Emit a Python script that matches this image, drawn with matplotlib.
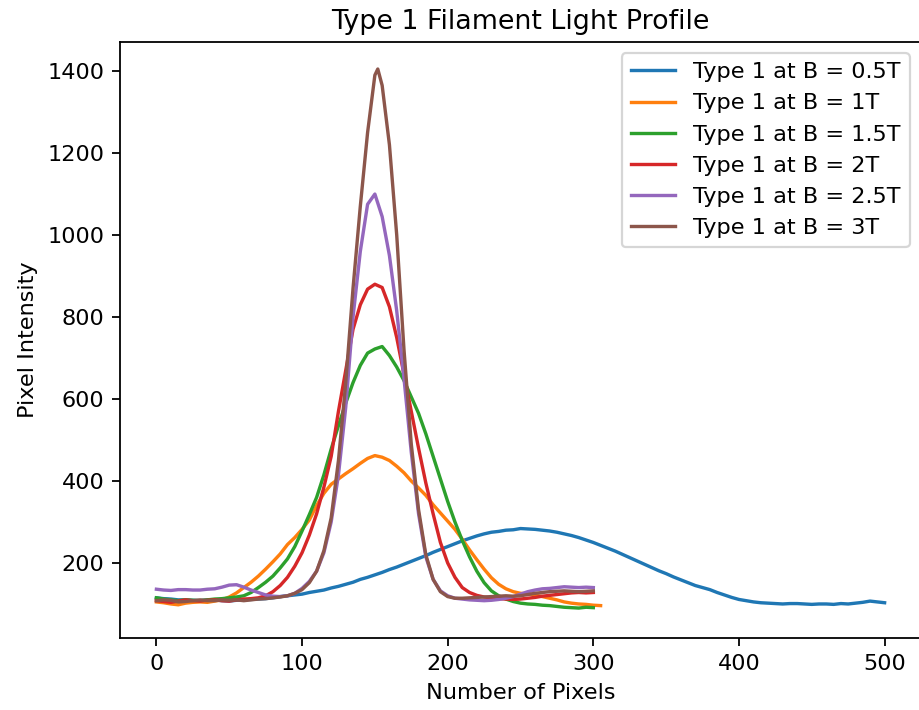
import matplotlib
matplotlib.use("Agg")
import matplotlib.pyplot as plt

# ---- data ----
x_b05 = list(range(0, 501, 5))
y_b05 = [115, 113, 112, 110, 110, 109, 108, 110, 110, 108, 107, 109, 110, 111, 112, 113, 115, 118, 120, 122,
         124, 128, 131, 134, 139, 143, 148, 153, 160, 165, 171, 177, 184, 190, 197, 204, 211, 218, 226, 233,
         240, 247, 254, 260, 266, 271, 275, 277, 280, 281, 284, 283, 282, 280, 278, 275, 271, 267, 262, 256,
         250, 243, 236, 229, 221, 213, 205, 197, 189, 181, 174, 166, 159, 152, 145, 140, 135, 128, 122, 116,
         111, 108, 105, 103, 102, 101, 100, 101, 101, 100, 99, 100, 100, 99, 101, 100, 102, 104, 107, 105, 103]

x_b1 = list(range(0, 306, 5))
y_b1 = [105, 103, 100, 98, 102, 104, 105, 104, 107, 110, 117, 127, 140, 153, 168, 185, 203, 222, 245, 262,
        282, 305, 340, 370, 392, 405, 418, 430, 443, 455, 462, 458, 450, 436, 420, 400, 383, 365, 342, 322,
        302, 282, 258, 232, 208, 185, 164, 148, 137, 130, 126, 125, 122, 118, 114, 110, 105, 102, 100, 99,
        97, 96]

x_b15 = list(range(0, 301, 5))
y_b15 = [115, 112, 110, 108, 110, 109, 108, 110, 112, 113, 115, 117, 120, 128, 140, 153, 168, 188, 210, 240,
         278, 318, 360, 415, 478, 535, 590, 640, 682, 712, 722, 728, 706, 678, 645, 605, 565, 515, 460, 405,
         350, 300, 255, 215, 180, 152, 132, 120, 112, 106, 102, 100, 99, 97, 96, 94, 92, 91, 90, 92, 91]

x_b2 = list(range(0, 301, 5))
y_b2 = [108, 106, 104, 107, 110, 108, 107, 109, 110, 108, 107, 110, 112, 113, 115, 120, 130, 145, 165, 192,
        225, 268, 320, 385, 460, 570, 670, 770, 830, 868, 880, 872, 825, 750, 660, 570, 480, 395, 320, 250,
        200, 165, 140, 128, 121, 117, 115, 113, 112, 111, 112, 114, 116, 119, 121, 123, 125, 127, 128, 127, 128]

x_b25 = list(range(0, 301, 5))
y_b25 = [136, 134, 133, 135, 135, 134, 134, 136, 137, 141, 146, 147, 141, 134, 128, 122, 119, 118, 120, 126,
         138, 155, 180, 225, 300, 415, 580, 800, 960, 1075, 1100, 1045, 950, 815, 650, 470, 320, 215, 160, 132,
         120, 114, 112, 110, 109, 108, 109, 111, 114, 118, 124, 130, 134, 137, 138, 140, 142, 141, 140, 141, 140]

x_b3 = [0, 5, 10, 15, 20, 25, 30, 35, 40, 45, 50, 55, 60, 65, 70, 75, 80, 85, 90, 95, 100, 105, 110, 115,
        120, 125, 130, 135, 140, 145, 150, 152, 155, 160, 165, 170, 175, 180, 185, 190, 195, 200, 205, 210,
        215, 220, 225, 230, 235, 240, 245, 250, 255, 260, 265, 270, 275, 280, 285, 290, 295, 300]
y_b3 = [108, 110, 109, 105, 106, 108, 110, 108, 108, 110, 109, 110, 108, 110, 112, 113, 115, 117, 120, 126,
        135, 152, 180, 230, 310, 450, 640, 870, 1070, 1250, 1390, 1405, 1365, 1220, 1000, 720, 490, 330, 220,
        160, 130, 118, 114, 114, 115, 116, 117, 118, 119, 120, 119, 120, 123, 126, 128, 130, 131, 132, 131,
        130, 131, 132]

labels = ["Type 1 at B = 0.5T", "Type 1 at B = 1T", "Type 1 at B = 1.5T",
          "Type 1 at B = 2T", "Type 1 at B = 2.5T", "Type 1 at B = 3T"]
xs = [x_b05, x_b1, x_b15, x_b2, x_b25, x_b3]
ys = [y_b05, y_b1, y_b15, y_b2, y_b25, y_b3]

title = "Type 1 Filament Light Profile"
xlabel = "Number of Pixels"
ylabel = "Pixel Intensity"
xticks = [0, 100, 200, 300, 400, 500]
yticks = [200, 400, 600, 800, 1000, 1200, 1400]

# ---- figure ----
DPI = 161.5
fig = plt.figure(figsize=(5.6905, 4.3965), dpi=DPI)
ax = fig.add_axes([120 / 919, 72 / 710, 801 / 919, 596 / 710])

for x, y, lab in zip(xs, ys, labels):
    ax.plot(x, y, label=lab)

ax.set_xlim(-25, 525)
ax.set_ylim(17, 1471)
ax.set_xticks(xticks)
ax.set_yticks(yticks)
ax.set_title(title)
ax.set_xlabel(xlabel)
ax.set_ylabel(ylabel)
ax.legend(loc="upper right")

fig.savefig("out.png", dpi=DPI)
